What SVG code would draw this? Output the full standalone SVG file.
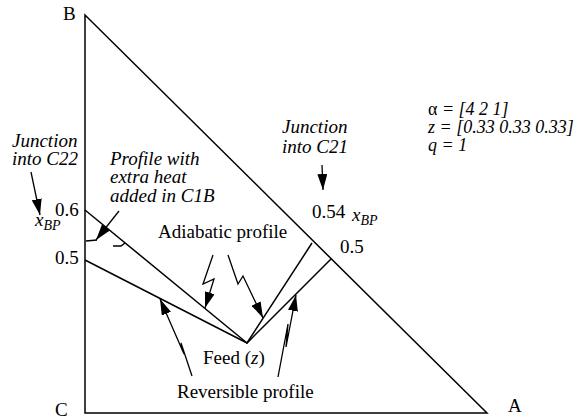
<svg xmlns="http://www.w3.org/2000/svg" width="584" height="420" viewBox="0 0 584 420">
<defs>
<style>
.ln{fill:none;stroke:#000;stroke-width:1.5}
.ar{fill:none;stroke:#000;stroke-width:1.3}
</style>
<marker id="ah" viewBox="0 0 16 10" refX="16" refY="5" markerWidth="16" markerHeight="10" markerUnits="userSpaceOnUse" orient="auto">
<path d="M0,0 L16,5 L0,10 Z" fill="#000"/>
</marker>
</defs>
<rect width="584" height="420" fill="#fff"/>
<text x="63" y="20" font-size="19" font-family="Liberation Serif">B</text>
<text x="55" y="416" font-size="19" font-family="Liberation Serif">C</text>
<text x="508" y="412" font-size="19" font-family="Liberation Serif">A</text>
<text x="55" y="216" font-size="19" font-family="Liberation Serif">0.6</text>
<text x="55" y="264" font-size="19" font-family="Liberation Serif">0.5</text>
<text x="35" y="226" font-size="19" font-style="italic" font-family="Liberation Serif">x<tspan font-size="14" dy="4">BP</tspan></text>
<text x="312" y="218" font-size="19" font-family="Liberation Serif">0.54</text>
<text x="352" y="221" font-size="19" font-style="italic" font-family="Liberation Serif">x<tspan font-size="14" dy="4">BP</tspan></text>
<text x="340" y="253" font-size="19" font-family="Liberation Serif">0.5</text>
<text x="158" y="238" font-size="19" font-family="Liberation Serif">Adiabatic profile</text>
<text x="203" y="364" font-size="19" font-family="Liberation Serif">Feed (<tspan font-style="italic">z</tspan>)</text>
<text x="177" y="398" font-size="19" font-family="Liberation Serif">Reversible profile</text>
<text x="12" y="147" font-size="19" font-style="italic" font-family="Liberation Serif">Junction</text>
<text x="12" y="165" font-size="19" font-style="italic" font-family="Liberation Serif">into C22</text>
<text x="282" y="133" font-size="19" font-style="italic" font-family="Liberation Serif">Junction</text>
<text x="282" y="153" font-size="19" font-style="italic" font-family="Liberation Serif">into C21</text>
<text x="110" y="165" font-size="19" font-style="italic" font-family="Liberation Serif">Profile with</text>
<text x="110" y="183" font-size="19" font-style="italic" font-family="Liberation Serif">extra heat</text>
<text x="110" y="202" font-size="19" font-style="italic" font-family="Liberation Serif">added in C1B</text>
<text x="428" y="115" font-size="18" font-family="Liberation Serif">α<tspan font-style="italic"> = [4 2 1]</tspan></text>
<text x="428" y="133" font-size="18" font-style="italic" font-family="Liberation Serif">z = [0.33 0.33 0.33]</text>
<text x="428" y="151" font-size="18" font-style="italic" font-family="Liberation Serif">q = 1</text>
<g id="triangle">
<path class="ln" d="M85,15 L85,413 L487,413 Z"/>
</g>
<g id="profiles">
<path class="ln" d="M85,210 L247,343 L312,243"/>
<path class="ln" d="M85,260 L247,343 L331,259"/>
<path class="ln" d="M86,241 L97,240"/>
<path class="ln" d="M113,246 L121,246 L125,243"/>
</g>
<g id="connectors">
<path class="ar" d="M31,172 L40,215" marker-end="url(#ah)"/>
<path class="ar" d="M119,211 L96,240" marker-end="url(#ah)"/>
<path class="ar" d="M322,165 L323,190" marker-end="url(#ah)"/>
<path class="ar" d="M213,255 L203,284 L214,279 L205,308" marker-end="url(#ah)"/>
<path class="ar" d="M228,255 L238,284 L243,276 L263,318" marker-end="url(#ah)"/>
<path class="ar" d="M192,376 L181,343 L184,354 L160,299" marker-end="url(#ah)"/>
<path class="ar" d="M278,377 L288,324 L286,347 L296,295" marker-end="url(#ah)"/>
</g>
</svg>
